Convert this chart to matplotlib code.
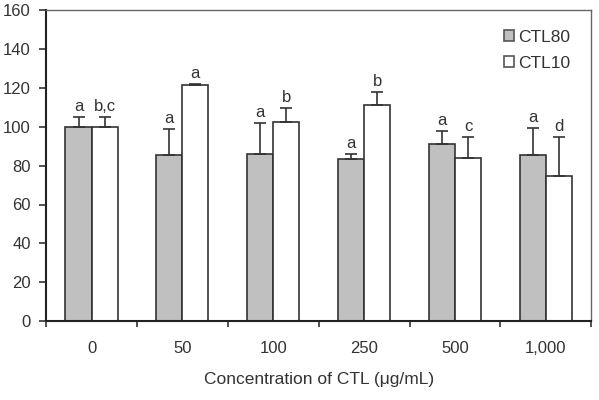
import matplotlib
matplotlib.use("Agg")
import matplotlib.pyplot as plt
import numpy as np

plt.rcParams['font.family'] = ['Liberation Sans', 'DejaVu Sans']

categories = ["0", "50", "100", "250", "500", "1,000"]
ctl80 = [100, 85.4, 86, 83.3, 90.9, 85.6]
ctl80_err = [5, 13.4, 16, 2.9, 6.8, 13.8]
ctl10 = [100, 121.6, 102.4, 111, 84, 74.7]
ctl10_err = [5, 0.5, 7, 6.8, 10.8, 20.1]
ctl80_letters = ["a", "a", "a", "a", "a", "a"]
ctl10_letters = ["b,c", "a", "b", "b", "c", "d"]

fig, ax = plt.subplots(figsize=(5.99, 4.0), dpi=100)
fig.subplots_adjust(left=0.077, right=0.987, top=0.975, bottom=0.197)

x = np.arange(len(categories))
w = 0.287
ekw = dict(ecolor='#333333', elinewidth=1.2, capsize=4, capthick=1.2)
ax.bar(x - w / 2, ctl80, w, yerr=[np.zeros(len(x)), ctl80_err], color='#c0c0c0',
       edgecolor='#333333', linewidth=1.2, error_kw=ekw, label='CTL80')
ax.bar(x + w / 2, ctl10, w, yerr=[np.zeros(len(x)), ctl10_err], color='white',
       edgecolor='#333333', linewidth=1.2, error_kw=ekw, label='CTL10')

for i in range(len(x)):
    ax.text(x[i] - w / 2, ctl80[i] + ctl80_err[i] + 1.5, ctl80_letters[i],
            ha='center', va='bottom', fontsize=12, color='#333333')
    ax.text(x[i] + w / 2, ctl10[i] + ctl10_err[i] + 1.5, ctl10_letters[i],
            ha='center', va='bottom', fontsize=12, color='#333333')

ax.set_xlim(-0.5, len(x) - 0.5)
ax.set_ylim(0, 160)
ax.set_yticks(np.arange(0, 161, 20))
ax.set_xticks(np.arange(-0.5, len(x), 1))
ax.set_xticklabels([])
ax.set_xticks(x, minor=True)
ax.set_xticklabels(categories, minor=True)
ax.tick_params(axis='x', which='minor', length=0, pad=14, labelsize=12, labelcolor='#333333')
ax.tick_params(axis='x', which='major', length=4, width=1.2, direction='out', color='#333333')
ax.tick_params(axis='y', length=5, width=1.2, pad=6, labelsize=12, labelcolor='#333333', color='#333333')

ax.spines['left'].set_linewidth(1.5)
ax.spines['bottom'].set_linewidth(1.5)
ax.spines['left'].set_color('#222222')
ax.spines['bottom'].set_color('#222222')
ax.spines['top'].set_color('#666666')
ax.spines['right'].set_color('#666666')
ax.spines['top'].set_linewidth(1.0)
ax.spines['right'].set_linewidth(1.0)

ax.set_xlabel('Concentration of CTL (μg/mL)', fontsize=12.5, color='#333333', labelpad=12)

leg = ax.legend(loc='upper right', frameon=False, fontsize=12.5, handlelength=0.6,
                handleheight=0.6, handletextpad=0.2, labelspacing=0.65,
                bbox_to_anchor=(0.98, 0.97), borderaxespad=0.2)
for t in leg.get_texts():
    t.set_color('#333333')
for p in leg.get_patches():
    p.set_edgecolor('#555555')

fig.savefig('out.png', dpi=100)
